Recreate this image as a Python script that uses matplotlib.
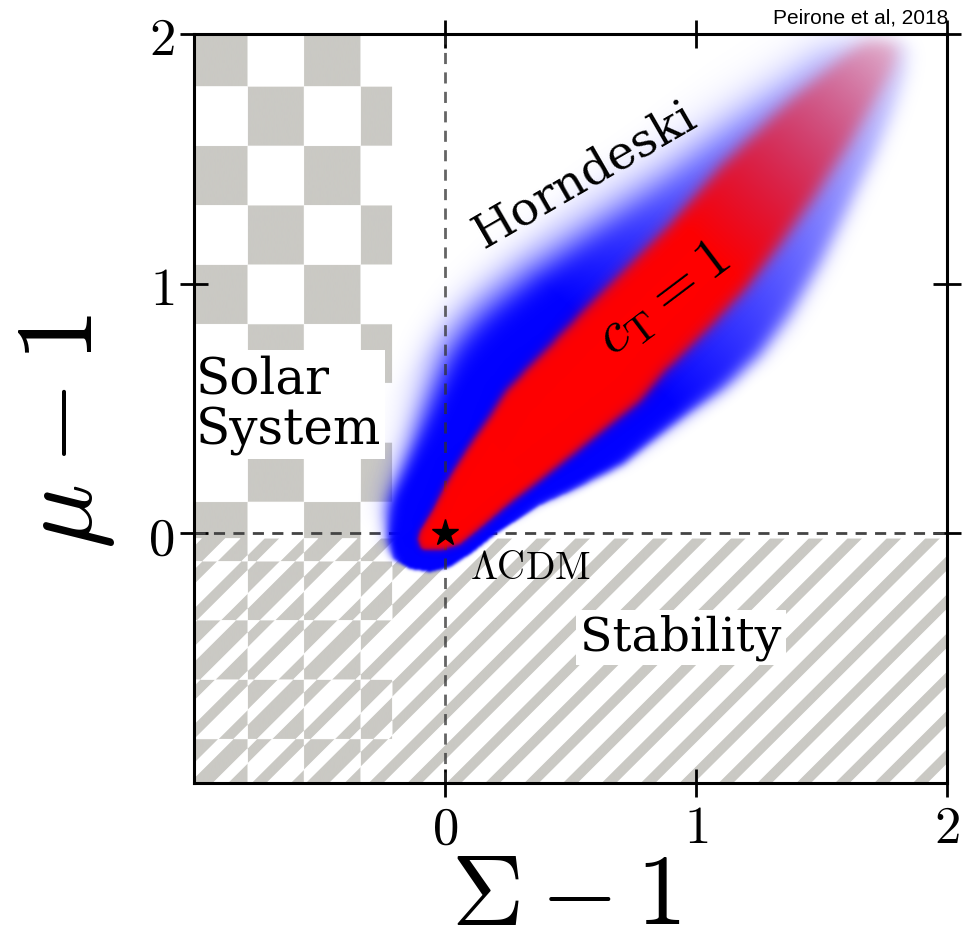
import numpy as np
import matplotlib
matplotlib.use("Agg")
import matplotlib.pyplot as plt
from matplotlib.path import Path

plt.rcParams['mathtext.fontset'] = 'cm'
plt.rcParams['font.family'] = ['DejaVu Serif']

# ---- data: region outlines in the (Sigma-1, mu-1) plane ----
# Horndeski models (blue)
horndeski_x = [-0.231, -0.235, -0.207, -0.139, -0.060, 0.020, 0.112, 0.207, 0.378, 0.510,
               0.709, 0.845, 0.976, 1.116, 1.255, 1.375, 1.494, 1.614, 1.713, 1.793,
               1.845, 1.853, 1.793, 1.653, 1.494, 1.355, 1.135, 0.876, 0.578, 0.319,
               0.120, 0.004, -0.068, -0.131, -0.187]
horndeski_y = [0.136, -0.024, -0.104, -0.144, -0.156, -0.136, -0.076, 0.000, 0.112, 0.172,
               0.276, 0.384, 0.485, 0.585, 0.717, 0.877, 1.077, 1.318, 1.518, 1.706,
               1.858, 1.946, 1.986, 1.994, 1.958, 1.838, 1.666, 1.450, 1.237, 1.049,
               0.889, 0.745, 0.557, 0.376, 0.236]
# Horndeski with c_T = 1 (red)
ct1_x = [-0.108, -0.096, -0.020, 0.060, 0.139, 0.247, 0.378, 0.510, 0.645, 0.777,
         0.876, 1.048, 1.195, 1.335, 1.474, 1.606, 1.705, 1.785, 1.813, 1.773,
         1.685, 1.594, 1.375, 1.104, 0.896, 0.765, 0.506, 0.378, 0.247, 0.179,
         0.100, 0.020, -0.048, -0.100]
ct1_y = [-0.024, -0.064, -0.068, -0.044, 0.020, 0.112, 0.212, 0.316, 0.425, 0.529,
         0.649, 0.817, 0.977, 1.157, 1.350, 1.550, 1.718, 1.858, 1.946, 1.978,
         1.978, 1.918, 1.738, 1.478, 1.237, 1.105, 0.845, 0.709, 0.577, 0.469,
         0.356, 0.228, 0.096, 0.008]

lcdm_point = [0.0, 0.0]
solar_sigma_max = -0.21      # Solar System constraint: excluded for Sigma-1 below this
stability_mu_max = -0.02     # Stability constraint: excluded for mu-1 below this
x_ticks = [0, 1, 2]
y_ticks = [0, 1, 2]
x_range = (-1, 2)
y_range = (-1, 2)

# ---- style ----
gray = np.array([0xca, 0xc9, 0xc4]) / 255
checker_w, checker_h = 0.2245, 0.2377
checker_x0, checker_y0 = -1.011, 1.790
stripe_step = 0.155
stripe_width = 0.060
stripe_phase = 0.02

fig = plt.figure(figsize=(9.76, 9.45), dpi=100)
ax = fig.add_axes([194 / 976, 1 - 784 / 945, (947 - 194) / 976, (784 - 35) / 945])

# ---- excluded regions: checkerboard (Solar System) and stripes (Stability) ----
m = 1500
ex = np.linspace(x_range[0], x_range[1], m)
ey = np.linspace(y_range[0], y_range[1], m)
EX, EY = np.meshgrid(ex, ey)
col = np.floor((EX - checker_x0) / checker_w).astype(int)
row = np.floor((checker_y0 - EY) / checker_h).astype(int) + 1
checker = ((row + col) % 2 == 0) & (EX < solar_sigma_max)
stripes = (np.mod(EY - EX - stripe_phase, stripe_step) < stripe_width) & (EY < stability_mu_max)
shade = checker ^ stripes
excl = np.ones((m, m, 4))
excl[shade, :3] = gray
excl[~shade, 3] = 0
ax.imshow(excl, extent=(*x_range, *y_range), origin='lower', aspect='auto',
          interpolation='antialiased', zorder=1)

ax.axhline(0, color='#444444', lw=2, ls=(0, (4, 3)), zorder=2.5)

# ---- soft-edged probability regions ----
n = 700
gx = np.linspace(x_range[0], x_range[1], n)
gy = np.linspace(y_range[0], y_range[1], n)
X, Y = np.meshgrid(gx, gy)
pts = np.column_stack([X.ravel(), Y.ravel()])
cell = (x_range[1] - x_range[0]) / (n - 1)


def region_mask(xs, ys):
    v = np.column_stack([xs + xs[:1], ys + ys[:1]])
    return Path(v).contains_points(pts).reshape(n, n).astype(float)


def blur(a, sigma):
    s = sigma / cell
    r = int(np.ceil(3 * s))
    k = np.exp(-0.5 * (np.arange(-r, r + 1) / s) ** 2)
    k /= k.sum()
    a = np.apply_along_axis(lambda v: np.convolve(v, k, mode='same'), 0, a)
    return np.apply_along_axis(lambda v: np.convolve(v, k, mode='same'), 1, a)


def soft(mask, sig, levels):
    stack = np.array([blur(mask, s) for s in levels])
    idx = np.interp(sig, levels, np.arange(len(levels)))
    i0 = np.clip(np.floor(idx).astype(int), 0, len(levels) - 2)
    f = idx - i0
    lo = np.take_along_axis(stack, i0[None], 0)[0]
    hi = np.take_along_axis(stack, (i0 + 1)[None], 0)[0]
    return lo * (1 - f) + hi * f


# coordinates along / across the degeneracy direction
p0 = np.array([-0.1, -0.05])
d = np.array([1.9, 2.0])
length = np.hypot(*d)
u = d / length
S = ((X - p0[0]) * u[0] + (Y - p0[1]) * u[1]) / length
T = -(X - p0[0]) * u[1] + (Y - p0[1]) * u[0]

levels = [0.006, 0.015, 0.03, 0.05, 0.075, 0.1]
sig_b = 0.006 + 0.03 * np.clip((S - 0.1) / 0.5, 0, 1) + 0.06 * np.clip(T / 0.5, 0, 1)
sig_r = 0.01 + 0.022 * np.clip(S / 0.8, 0, 1)
fade_b = np.clip(1 - (S - 0.4) / 0.6 * 0.85, 0.15, 1)
fade_r = np.clip(1 - (S - 0.6) / 0.4 * 0.8, 0.2, 1)

a_blue = np.clip(soft(region_mask(horndeski_x, horndeski_y), sig_b, levels) * fade_b, 0, 1)
a_red = np.clip(soft(region_mask(ct1_x, ct1_y), sig_r, levels) * fade_r, 0, 1)

blue_img = np.zeros((n, n, 4))
blue_img[..., 2] = 1
blue_img[..., 3] = a_blue
red_img = np.zeros((n, n, 4))
red_img[..., 0] = 1
red_img[..., 3] = a_red

ax.imshow(blue_img, extent=(*x_range, *y_range), origin='lower', aspect='auto',
          interpolation='bilinear', zorder=3)
ax.axvline(0, color='#303030', lw=2, ls=(0, (4, 3)), alpha=0.75, zorder=3.5)
ax.imshow(red_img, extent=(*x_range, *y_range), origin='lower', aspect='auto',
          interpolation='bilinear', zorder=4)
ax.set_xlim(*x_range)
ax.set_ylim(*y_range)

ax.plot(*lcdm_point, marker='*', ms=20, color='black', zorder=6)

# labels inside the plane
ax.text(-0.992, 0.517, 'Solar\nSystem', fontsize=36, ha='left', va='center',
        linespacing=1.05, zorder=5,
        bbox=dict(facecolor='white', edgecolor='none', pad=3))
ax.text(0.940, -0.416, 'Stability', fontsize=34, ha='center', va='center', zorder=5,
        bbox=dict(facecolor='white', edgecolor='none', pad=3))
ax.text(0.556, 1.440, 'Horndeski', fontsize=34, ha='center', va='center',
        rotation=30, zorder=5)
ax.text(0.865, 0.945, r'$c_{\rm T} = 1$', fontsize=42, ha='center', va='center',
        rotation=37, zorder=5)
ax.text(0.339, -0.136, r'$\mathrm{\Lambda CDM}$', fontsize=28, ha='center', va='center',
        zorder=5)

# axes decoration
ax.set_xticks(x_ticks)
ax.set_yticks(y_ticks)
ax.set_xticklabels([f'${v}$' for v in x_ticks])
ax.set_yticklabels([f'${v}$' for v in y_ticks])
ax.tick_params(direction='inout', length=20, width=2, top=True, right=True,
               labelsize=38, pad=4)
for sp in ax.spines.values():
    sp.set_linewidth(2.2)
    sp.set_zorder(7)

fig.text(566 / 976, 1 - 897 / 945, r'$\Sigma - 1$', fontsize=72, ha='center',
         va='center')
fig.text(64 / 976, 1 - 432 / 945, r'$\mu - 1$', fontsize=78, ha='center', va='center',
         rotation=90)
fig.text(948 / 976, 1 - 18 / 945, 'Peirone et al, 2018', fontsize=15, ha='right',
         va='center', family=['Liberation Sans'])

fig.savefig('out.png', dpi=100)
